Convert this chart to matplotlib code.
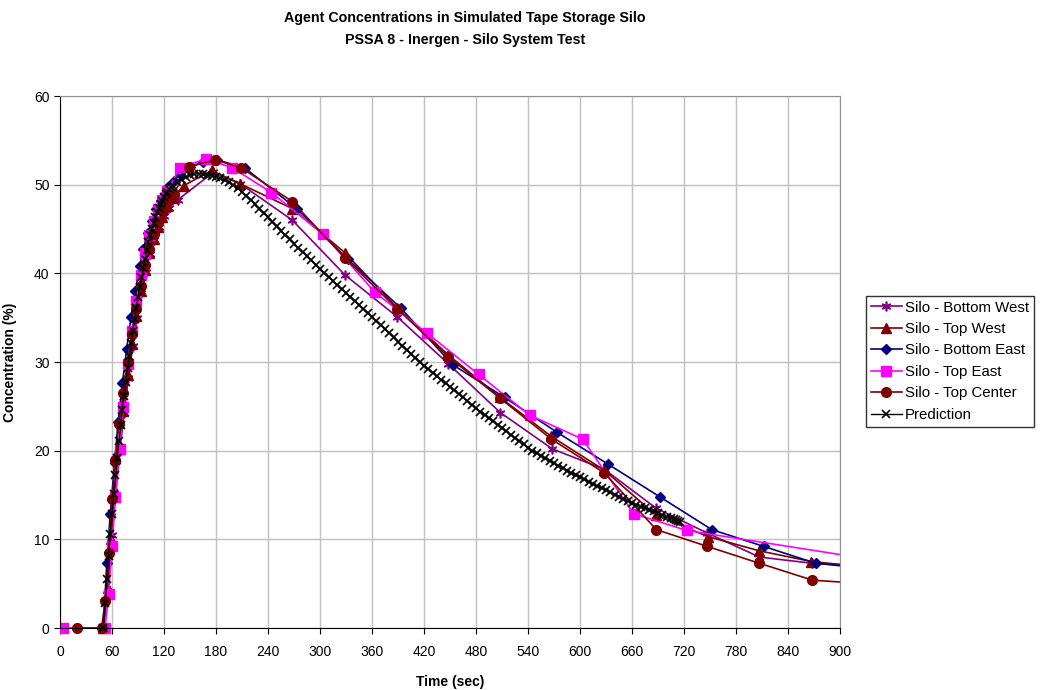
import matplotlib
matplotlib.use("Agg")
import matplotlib.pyplot as plt
from matplotlib.transforms import Bbox, TransformedBbox

plt.rcParams['font.family'] = ['Liberation Sans', 'DejaVu Sans']

# Measured data (time in sec, concentration in %)
bw_t = [50, 55, 60, 64, 69, 74, 79, 84, 89, 94, 99, 104, 109, 114, 120, 126, 136,
        177, 208, 268, 329, 389, 448, 508, 568, 628, 688, 747, 807, 868, 928]
bw_c = [0, 4.0, 10.5, 15.0, 20.0, 24.3, 28.2, 31.8, 35.0, 37.8, 40.2, 42.2, 43.8, 45.2, 46.5, 47.4, 48.3,
        51.4, 50.1, 46.0, 39.8, 35.1, 29.8, 24.3, 20.2, 17.9, 13.5, 10.7, 8.0, 7.3, 7.0]

tw_t = [50, 55, 59, 64, 68, 73, 78, 83, 88, 93, 98, 103, 108, 113, 118, 124, 130,
        143, 175, 208, 268, 329, 389, 448, 508, 567, 628, 688, 748, 807, 867, 927]
tw_c = [0, 4.5, 10.0, 15.5, 20.2, 24.5, 28.5, 32.0, 35.2, 38.0, 40.4, 42.3, 43.9, 45.2, 46.4, 47.6, 48.5,
        49.9, 51.6, 50.1, 47.3, 42.3, 36.1, 30.8, 26.0, 21.6, 17.8, 12.7, 10.3, 8.7, 7.5, 6.9]

be_t = [50, 54, 58, 63, 67, 72, 77, 82, 87, 92, 96, 101, 106, 111, 116, 121, 126, 131, 138,
        150, 165, 181, 213, 273, 332, 393, 453, 513, 573, 632, 692, 752, 812, 872, 932]
be_c = [0, 7.3, 12.9, 18.6, 23.2, 27.6, 31.5, 35.1, 38.0, 40.8, 42.7, 44.5, 45.9, 47.2, 48.2, 49.0, 49.8, 50.4, 51.2,
        52.0, 52.6, 52.8, 51.9, 47.3, 41.6, 36.1, 29.7, 26.0, 22.1, 18.5, 14.8, 11.1, 9.2, 7.3, 6.7]

te_t = [3, 52, 56, 60, 64, 69, 73, 78, 83, 88, 93, 98, 103, 108, 113, 118, 124,
        138, 168, 199, 244, 304, 363, 423, 483, 542, 603, 662, 723, 1023]
te_c = [0, 0, 3.8, 9.3, 14.8, 20.2, 24.9, 29.8, 33.5, 36.9, 39.8, 42.3, 44.3, 45.9, 47.2, 48.3, 49.3,
        51.9, 52.9, 51.9, 49.1, 44.4, 37.9, 33.3, 28.6, 24.0, 21.3, 12.9, 11.0, 6.4]

tc_t = [20, 48, 52, 56, 60, 64, 68, 73, 78, 83, 88, 93, 98, 103, 108, 113, 119, 125, 131,
        149, 179, 209, 268, 329, 389, 448, 508, 567, 628, 688, 747, 807, 868, 928]
tc_c = [0, 0, 3.0, 8.5, 14.5, 19.0, 23.0, 26.5, 30.0, 33.2, 36.0, 38.6, 40.9, 42.8, 44.4, 45.8, 47.1, 48.3, 49.0,
        52.0, 52.8, 51.9, 48.1, 41.7, 36.0, 30.6, 25.9, 21.3, 17.5, 11.1, 9.2, 7.3, 5.4, 5.0]

# Model prediction
pred_t = [50, 52, 54, 56, 58, 60, 62, 64, 66, 68, 70, 72, 74, 76, 78, 80, 82, 84, 86, 88,
          90, 92, 94, 96, 98, 100, 102, 104, 106, 108, 110, 112, 114, 116, 118, 120, 122, 124, 126, 128,
          130, 135, 140, 145, 150, 155, 160, 165, 170, 175, 180, 185, 190, 195, 200, 205, 210, 215, 220, 225,
          230, 235, 240, 245, 250, 255, 260, 265, 270, 275, 280, 285, 290, 295, 300, 305, 310, 315, 320, 325,
          330, 335, 340, 345, 350, 355, 360, 365, 370, 375, 380, 385, 390, 395, 400, 405, 410, 415, 420, 425,
          430, 435, 440, 445, 450, 455, 460, 465, 470, 475, 480, 485, 490, 495, 500, 505, 510, 515, 520, 525,
          530, 535, 540, 545, 550, 555, 560, 565, 570, 575, 580, 585, 590, 595, 600, 605, 610, 615, 620, 625,
          630, 635, 640, 645, 650, 655, 660, 665, 670, 675, 680, 685, 690, 695, 700, 705, 708, 711, 713, 715]
pred_c = [0, 2.8, 5.5, 8.1, 10.6, 12.9, 15.1, 17.2, 19.2, 21.1, 22.9, 24.6, 26.2, 27.8, 29.3, 30.7, 32.1, 33.5, 34.8, 36.1,
          37.3, 38.5, 39.6, 40.6, 41.6, 42.6, 43.5, 44.3, 45.0, 45.7, 46.3, 46.9, 47.4, 47.8, 48.2, 48.6, 48.9, 49.2, 49.5, 49.7,
          49.9, 50.3, 50.6, 50.85, 51.05, 51.2, 51.25, 51.2, 51.1, 51.0, 50.85, 50.7, 50.5, 50.25, 49.95, 49.6, 49.2, 48.75, 48.3, 47.8,
          47.3, 46.8, 46.3, 45.8, 45.3, 44.8, 44.3, 43.85, 43.35, 42.85, 42.4, 41.9, 41.45, 40.95, 40.5, 40.05, 39.6, 39.15, 38.7, 38.25,
          37.8, 37.35, 36.9, 36.45, 36.0, 35.55, 35.1, 34.65, 34.2, 33.7, 33.25, 32.8, 32.3, 31.85, 31.4, 30.95, 30.5, 30.05, 29.6, 29.2,
          28.8, 28.4, 28.0, 27.6, 27.2, 26.8, 26.4, 26.0, 25.6, 25.2, 24.8, 24.4, 24.05, 23.65, 23.3, 22.9, 22.55, 22.2, 21.8, 21.45,
          21.05, 20.7, 20.3, 20.0, 19.7, 19.4, 19.15, 18.85, 18.6, 18.3, 18.05, 17.75, 17.5, 17.25, 17.0, 16.75, 16.5, 16.25, 16.0, 15.8,
          15.55, 15.3, 15.05, 14.8, 14.55, 14.35, 14.1, 13.9, 13.7, 13.5, 13.35, 13.15, 12.95, 12.75, 12.55, 12.35, 12.25, 12.15, 12.05, 12.0]

x_ticks = list(range(0, 901, 60))
y_ticks = list(range(0, 61, 10))

fig = plt.figure(figsize=(10.4, 6.9), dpi=100)
ax = fig.add_axes([60 / 1040, 1 - 628 / 690, 780 / 1040, 532 / 690])

lines = []
lines += ax.plot(bw_t, bw_c, color='#800080', lw=1.2, marker=(6, 2, 0), ms=7, mew=1.2,
                 label='Silo - Bottom West')
lines += ax.plot(tw_t, tw_c, color='#800000', lw=1.2, marker='^', ms=6.5,
                 label='Silo - Top West')
lines += ax.plot(be_t, be_c, color='#000080', lw=1.2, marker='D', ms=5,
                 label='Silo - Bottom East')
lines += ax.plot(te_t, te_c, color='#FF00FF', lw=1.2, marker='s', ms=6.5,
                 label='Silo - Top East')
lines += ax.plot(tc_t, tc_c, color='#800000', lw=1.2, marker='o', ms=7,
                 label='Silo - Top Center')
lines += ax.plot(pred_t, pred_c, color='black', lw=1.0, marker='x', ms=6, mew=1.2,
                 label='Prediction')

# let markers sitting on the x axis show in full, but still cut at 900 sec
clip = TransformedBbox(Bbox([[0, -0.03], [1, 1.02]]), ax.transAxes)
for ln in lines:
    ln.set_clip_box(clip)

ax.set_xlim(0, 900)
ax.set_ylim(0, 60)
ax.set_xticks(x_ticks)
ax.set_yticks(y_ticks)
ax.grid(True, color='#c0c0c0', lw=1)
ax.set_axisbelow(True)
ax.tick_params(direction='out', length=4, labelsize=10, colors='black')
ax.tick_params(axis='x', pad=8)
for side in ['top', 'right']:
    ax.spines[side].set_color('#909090')
for side in ['left', 'bottom']:
    ax.spines[side].set_color('black')

ax.set_xlabel('Time (sec)', fontsize=10, fontweight='bold', labelpad=12)
ax.set_ylabel('Concentration (%)', fontsize=10, fontweight='bold', labelpad=12)

fig.text(465 / 1040, 1 - 18 / 690, 'Agent Concentrations in Simulated Tape Storage Silo',
         ha='center', va='center', fontsize=10.3, fontweight='bold')
fig.text(465 / 1040, 1 - 40 / 690, 'PSSA 8 - Inergen - Silo System Test',
         ha='center', va='center', fontsize=10.3, fontweight='bold')

leg = ax.legend(loc='upper left', bbox_to_anchor=(866 / 1040, 1 - 296 / 690),
                bbox_transform=fig.transFigure, fontsize=10.8, frameon=True, fancybox=False,
                edgecolor='black', borderpad=0.3, labelspacing=0.5, handlelength=2.1,
                handletextpad=0.2, borderaxespad=0)
leg.get_frame().set_linewidth(1.0)

fig.savefig('out.png', dpi=100)
